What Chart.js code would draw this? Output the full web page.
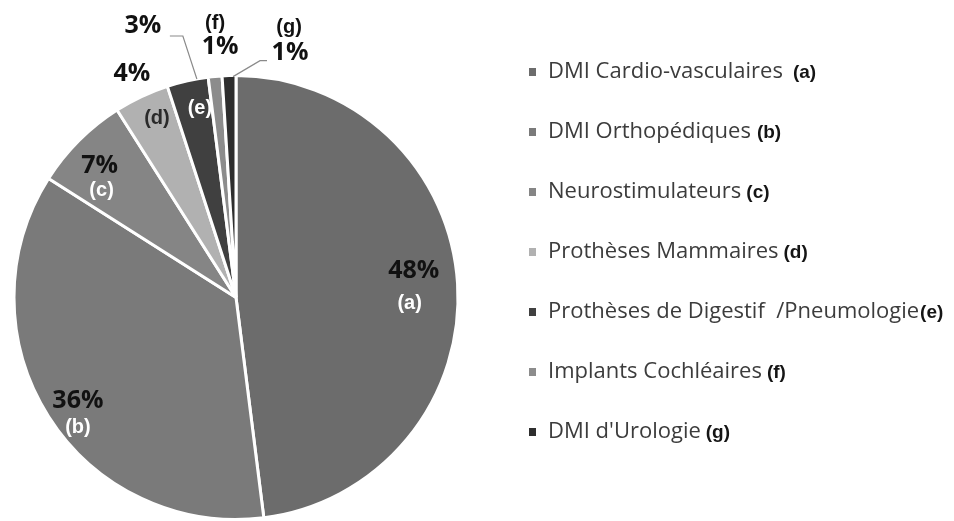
<!DOCTYPE html>
<html>
<head>
<meta charset="utf-8">
<script src="https://cdn.jsdelivr.net/npm/chart.js@4.4.1/dist/chart.umd.min.js"></script>
<style>
    html, body { margin: 0; padding: 0; background: #fff; }
    #wrap { position: relative; width: 954px; height: 521px; }
</style>
</head>
<body>
<div id="wrap"><canvas id="dmiChart"></canvas></div>
<script>
// Data
const categories = [
    'DMI Cardio-vasculaires',
    'DMI Orthopédiques',
    'Neurostimulateurs',
    'Prothèses Mammaires',
    'Prothèses de Digestif  /Pneumologie',
    'Implants Cochléaires',
    "DMI d'Urologie"
];
const tags = ['(a)', '(b)', '(c)', '(d)', '(e)', '(f)', '(g)'];
const shares = [48, 36, 7, 4, 3, 1, 1];

const sliceColours = ['#6c6c6c', '#7a7a7a', '#858585', '#b1b1b1', '#404040', '#8c8c8c', '#2e2e2e'];

// label placement per slice: anchor at k * radius on the mid angle, then pixel nudges
const placements = [
    { k: 0.82, pct: [-4, -15], tag: [-8, 17], tagColour: '#fff' },
    { k: 0.87, pct: [5, 0], tag: [5, 26], tagColour: '#fff' },
    { k: 0.85, pct: [-3, 2], tag: [-1, 26], tagColour: '#fff' },
    { k: 0.90, pct: [-19, -43], tag: [6, 2], tagColour: '#2a2a2a' },
    { k: 0.87, pct: [-51, -83], tag: [6, -1], tagColour: '#fff',
      line: [[3, -30], [-11, -73], [-24, -73]] },
    { k: 1.0, pct: [5, -30], tag: [0, -53], tagColour: '#111' },
    { k: 1.0, pct: [61, -23], tag: [60, -48], tagColour: '#111',
      line: [[4, 1], [31, -15], [38, -15]] }
];
const legendGaps = [10, 6, 5, 5, 1, 5, 5];

const sliceLabels = {
    id: 'sliceLabels',
    afterDatasetsDraw(chart) {
        const ctx = chart.ctx;
        const arcs = chart.getDatasetMeta(0).data;
        ctx.save();
        ctx.textAlign = 'center';
        ctx.textBaseline = 'middle';
        arcs.forEach((arc, i) => {
            const p = placements[i];
            const mid = (arc.startAngle + arc.endAngle) / 2;
            const ax = arc.x + Math.cos(mid) * arc.outerRadius * p.k;
            const ay = arc.y + Math.sin(mid) * arc.outerRadius * p.k;

            if (p.line) {
                ctx.beginPath();
                ctx.strokeStyle = '#8a8a8a';
                ctx.lineWidth = 1.2;
                p.line.forEach((pt, j) => {
                    if (j === 0) ctx.moveTo(ax + pt[0], ay + pt[1]);
                    else ctx.lineTo(ax + pt[0], ay + pt[1]);
                });
                ctx.stroke();
            }

            ctx.fillStyle = '#111';
            ctx.font = 'bold 25px "Open Sans"';
            ctx.fillText(shares[i] + '%', ax + p.pct[0], ay + p.pct[1]);

            ctx.fillStyle = p.tagColour;
            ctx.font = 'bold 20px "Liberation Sans"';
            ctx.fillText(tags[i], ax + p.tag[0], ay + p.tag[1]);
        });
        ctx.restore();
    }
};

// legend on the right, name in regular grey + bold letter
const sideLegend = {
    id: 'sideLegend',
    afterDraw(chart) {
        const ctx = chart.ctx;
        const x0 = 529, y0 = 72, step = 60;
        ctx.save();
        ctx.textBaseline = 'middle';
        ctx.textAlign = 'left';
        categories.forEach((name, i) => {
            const y = y0 + i * step;
            ctx.fillStyle = sliceColours[i];
            ctx.fillRect(x0, y - 4, 7, 8);

            ctx.font = '22px "Open Sans"';
            ctx.fillStyle = '#3c3c3c';
            ctx.fillText(name, 548, y);
            const w = ctx.measureText(name).width;

            ctx.font = 'bold 19px "Liberation Sans"';
            ctx.fillStyle = '#151515';
            ctx.fillText(tags[i], 548 + w + legendGaps[i], y + 1);
        });
        ctx.restore();
    }
};

new Chart(document.getElementById('dmiChart'), {
    type: 'pie',
    data: {
        labels: categories,
        datasets: [{
            data: shares,
            backgroundColor: sliceColours,
            borderColor: '#ffffff',
            borderWidth: 3
        }]
    },
    options: {
        responsive: true,
        maintainAspectRatio: false,
        animation: false,
        layout: { padding: { left: 6, right: 488, top: 74, bottom: 0 } },
        plugins: {
            legend: { display: false },
            tooltip: { enabled: false }
        }
    },
    plugins: [sliceLabels, sideLegend]
});
</script>
</body>
</html>
